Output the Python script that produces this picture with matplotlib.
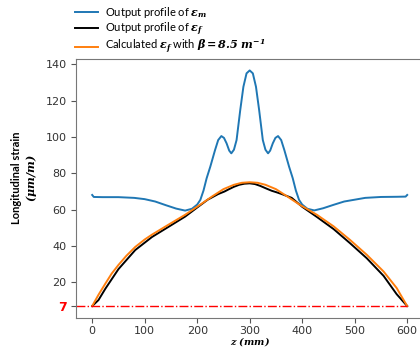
import matplotlib
matplotlib.use("Agg")
import matplotlib.pyplot as plt

plt.rcParams['mathtext.fontset'] = 'custom'
plt.rcParams['mathtext.rm'] = 'DejaVu Serif'
plt.rcParams['mathtext.it'] = 'DejaVu Serif:italic'
plt.rcParams['mathtext.bf'] = 'DejaVu Serif:bold:italic'

# eps_m output profile (blue)
z_m = [0, 3, 20, 50, 80, 100, 120, 140, 160, 177, 190, 200, 206, 212, 218, 225, 234, 240,
       246, 251, 256, 261, 265, 270, 275, 282, 288, 294, 300, 306, 312, 318, 325, 330,
       335, 339, 344, 349, 354, 360, 366, 375, 382, 388, 394, 400, 410, 423, 440, 460,
       480, 500, 520, 550, 580, 597, 600]
eps_m = [68.1, 67.0, 66.9, 66.9, 66.5, 65.8, 64.5, 62.5, 60.6, 59.5, 60.5, 62.8, 65.4, 70.5,
         77.3, 83.7, 92.8, 98.3, 100.5, 99.5, 96.5, 92.5, 91.0, 93.0, 98.3, 114.8, 127.6,
         135.0, 136.6, 135.0, 127.6, 114.8, 98.3, 93.0, 91.0, 92.5, 96.5, 99.5, 100.5, 98.3,
         92.8, 83.7, 77.3, 70.5, 65.4, 62.8, 60.5, 59.6, 60.8, 62.7, 64.5, 65.5, 66.5, 67.0,
         67.1, 67.2, 68.1]

# eps_f output profile (black)
z_f = [0, 12, 25, 50, 82, 114, 145, 177, 200, 220, 240, 252, 260, 270, 280, 290, 300, 310,
       320, 332, 342, 352, 361, 380, 400, 428, 460, 491, 523, 555, 580, 600]
eps_f = [7, 10.3, 16.5, 27.3, 37.8, 45.0, 50.5, 56.2, 61.2, 65.5, 68.6, 70.0, 71.2, 72.6,
         73.7, 74.3, 74.5, 74.1, 73.1, 71.6, 70.4, 69.5, 68.6, 66.5, 61.6, 56.0, 49.3, 41.6,
         33.3, 23.6, 13.5, 7]

# calculated eps_f, beta = 8.5 1/m (orange)
z_c = [0, 12, 25, 37, 50, 65, 82, 100, 114, 145, 177, 206, 228, 250, 270, 285, 300, 315,
       330, 350, 372, 396, 428, 460, 491, 523, 555, 580, 590, 600]
eps_c = [7, 13.2, 19.3, 24.8, 29.6, 34.6, 39.5, 43.6, 46.3, 51.7, 57.2, 62.8, 67.2, 71.3,
         73.7, 74.8, 75.1, 74.8, 73.7, 71.3, 67.2, 62.6, 57.2, 50.8, 43.4, 35.2, 26.0, 16.9,
         11.9, 7]

y_ref = 7
y_ticks = [7, 20, 40, 60, 80, 100, 120, 140]

fig = plt.figure(figsize=(4.2, 3.47), dpi=100)
ax = fig.add_axes([0.182, 0.084, 0.825, 0.746])

ax.plot(z_m, eps_m, color='#1f77b4', lw=1.4, label=r'Output profile of $\mathbf{ε_m}$')
ax.plot(z_f, eps_f, color='black', lw=1.4, label=r'Output profile of $\mathbf{ε_f}$')
ax.plot(z_c, eps_c, color='#ff7f0e', lw=1.4,
        label=r'Calculated $\mathbf{ε_f}$ with $\mathbf{β = 8.5\ m^{-1}}$')

ax.set_xlim(-30, 630)
ax.set_ylim(0.5, 142.9)
ax.plot([-30, 600], [y_ref, y_ref], color='red', ls='-.', lw=1.0)

ax.set_xticks([0, 100, 200, 300, 400, 500, 600])
ax.set_yticks(y_ticks)
ax.tick_params(colors='#555555', labelcolor='#333333', labelsize=8)
ax.tick_params(axis='x', pad=2.5)
lbls = ax.get_yticklabels()
lbls[0].set_color('red')
lbls[0].set_fontweight('bold')
lbls[0].set_fontsize(9)

for s in ax.spines.values():
    s.set_color('#777777')

ax.set_xlabel(r'$\mathbf{z\ (mm)}$', fontsize=7, labelpad=-0.5)
ax.set_ylabel('Longitudinal strain\n' + r'$\mathbf{(μm/m)}$', fontsize=8,
              fontweight='bold', family='Lato')
ax.yaxis.set_label_coords(-0.108, 0.54)

ax.legend(loc='lower left', bbox_to_anchor=(-0.005, 1.01), frameon=False,
          prop={'family': 'Lato', 'size': 8}, handlelength=2.1, handletextpad=0.6,
          labelspacing=0.05, borderaxespad=0, borderpad=0)

fig.savefig('out.png', dpi=100)
